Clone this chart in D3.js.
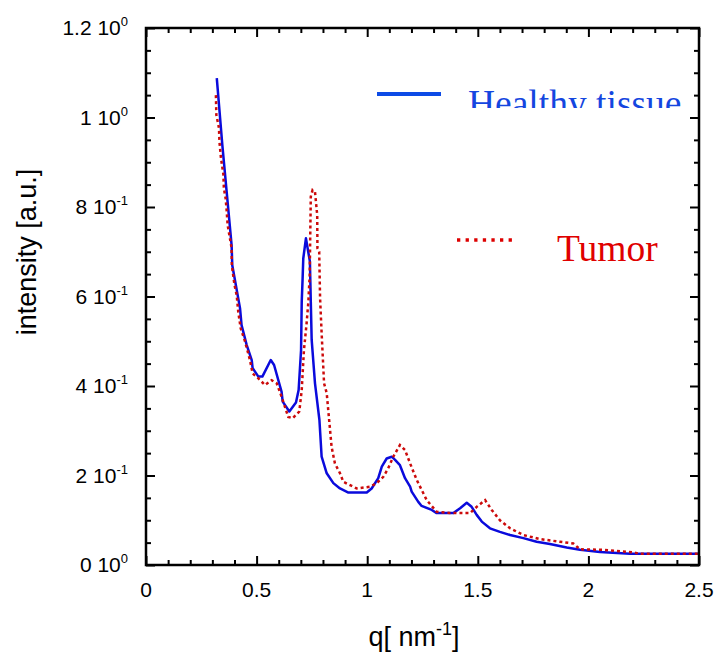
<!DOCTYPE html>
<html>
<head>
<meta charset="utf-8">
<script src="https://cdn.jsdelivr.net/npm/d3@7"></script>
<style>
  html, body { margin: 0; padding: 0; background: #fff; }
  svg { display: block; }
</style>
</head>
<body>
<svg id="chart" width="715" height="652"></svg>
<script>
// ---- data ----
const healthyQ = [0.320,0.345,0.387,0.390,0.425,0.432,0.455,0.478,0.482,0.508,0.526,0.564,0.579,0.613,0.618,0.648,0.678,0.690,0.701,0.704,0.708,0.711,0.723,0.741,0.745,0.749,0.764,0.784,0.794,0.817,0.847,0.877,0.915,0.998,1.020,1.050,1.066,1.088,1.111,1.126,1.148,1.171,1.194,1.201,1.231,1.246,1.292,1.314,1.390,1.420,1.450,1.472,1.495,1.518,1.555,1.600,1.646,1.706,1.766,1.826,1.902,1.962,2.052,2.188,2.500];
const healthyI = [1.088,0.939,0.715,0.670,0.574,0.536,0.492,0.458,0.440,0.421,0.421,0.458,0.447,0.387,0.365,0.343,0.363,0.391,0.480,0.588,0.640,0.685,0.730,0.678,0.588,0.503,0.406,0.324,0.242,0.205,0.183,0.171,0.162,0.162,0.171,0.194,0.220,0.238,0.242,0.235,0.223,0.194,0.175,0.164,0.141,0.132,0.123,0.116,0.116,0.127,0.139,0.130,0.112,0.097,0.082,0.074,0.067,0.060,0.052,0.047,0.039,0.034,0.029,0.025,0.025];

const tumorQ = [0.316,0.318,0.330,0.332,0.339,0.350,0.352,0.360,0.365,0.369,0.377,0.387,0.388,0.400,0.410,0.417,0.428,0.448,0.470,0.482,0.508,0.538,0.568,0.591,0.613,0.643,0.663,0.693,0.704,0.714,0.726,0.734,0.740,0.745,0.753,0.764,0.774,0.775,0.783,0.787,0.794,0.805,0.817,0.832,0.839,0.854,0.877,0.892,0.953,1.013,1.043,1.073,1.095,1.118,1.148,1.171,1.194,1.224,1.269,1.314,1.374,1.465,1.495,1.533,1.563,1.600,1.646,1.706,1.780,1.871,1.932,1.962,2.067,2.203,2.233,2.500];
const tumorI = [1.050,1.006,0.976,0.946,0.909,0.872,0.842,0.819,0.790,0.760,0.737,0.708,0.670,0.626,0.603,0.566,0.529,0.499,0.458,0.428,0.417,0.402,0.413,0.406,0.376,0.331,0.328,0.343,0.391,0.480,0.540,0.588,0.648,0.823,0.838,0.834,0.782,0.708,0.700,0.596,0.518,0.406,0.384,0.302,0.264,0.227,0.205,0.186,0.171,0.175,0.183,0.197,0.216,0.242,0.268,0.257,0.227,0.190,0.145,0.119,0.116,0.116,0.130,0.145,0.123,0.100,0.082,0.067,0.058,0.052,0.048,0.035,0.034,0.028,0.025,0.025];

const seriesNames = ["Healthy tissue", "Tumor"];
const xTickValues = [0, 0.5, 1, 1.5, 2, 2.5];
const xTickLabels = ["0", "0.5", "1", "1.5", "2", "2.5"];
const yTickValues = [0, 0.2, 0.4, 0.6, 0.8, 1.0, 1.2];
const yTickMantissa = ["0", "2", "4", "6", "8", "1", "1.2"];
const yTickExponent = ["0", "-1", "-1", "-1", "-1", "0", "0"];

// ---- layout ----
const svg = d3.select("#chart");
const L = 146, R = 699, T = 28, B = 565;
const x = d3.scaleLinear().domain([0, 2.5]).range([L, R]);
const y = d3.scaleLinear().domain([0, 1.2]).range([B, T]);
const axisFont = "'Liberation Sans', Arial, sans-serif";
const serifFont = "'Liberation Serif', 'Times New Roman', serif";

const blueCurve = "#0a0adc";
const redCurve = "#cc0a0a";

// ---- curves ----
const line = d3.line().x(d => x(d[0])).y(d => y(d[1]));
const healthy = healthyQ.map((q, i) => [q, healthyI[i]]);
const tumor = tumorQ.map((q, i) => [q, tumorI[i]]);

svg.append("path").datum(healthy)
  .attr("d", line).attr("fill", "none")
  .attr("stroke", blueCurve).attr("stroke-width", 2.5)
  .attr("stroke-linejoin", "round");

svg.append("path").datum(tumor)
  .attr("d", line).attr("fill", "none")
  .attr("stroke", redCurve).attr("stroke-width", 2.5)
  .attr("stroke-dasharray", "3,3");

// ---- axes (ticks inward) ----
const xMinor = d3.range(0, 2.5001, 0.1).filter(v => Math.abs(v*2 - Math.round(v*2)) > 1e-6);
const yMinor = d3.range(0, 1.2001, 0.05).filter(v => Math.abs(v*5 - Math.round(v*5)) > 1e-6);

function styleAxis(g) {
  g.selectAll("path").remove();
  g.selectAll("text").remove();
  g.selectAll("line").attr("stroke", "#000").attr("stroke-width", 2);
}

// bottom
svg.append("g").attr("transform", `translate(0,${B})`)
  .call(d3.axisBottom(x).tickValues(xTickValues).tickSize(-9)).call(styleAxis);
svg.append("g").attr("transform", `translate(0,${B})`)
  .call(d3.axisBottom(x).tickValues(xMinor).tickSize(-5)).call(styleAxis);
// top
svg.append("g").attr("transform", `translate(0,${T})`)
  .call(d3.axisTop(x).tickValues(xTickValues).tickSize(-9)).call(styleAxis);
svg.append("g").attr("transform", `translate(0,${T})`)
  .call(d3.axisTop(x).tickValues(xMinor).tickSize(-5)).call(styleAxis);
// left
svg.append("g").attr("transform", `translate(${L},0)`)
  .call(d3.axisLeft(y).tickValues(yTickValues).tickSize(-9)).call(styleAxis);
svg.append("g").attr("transform", `translate(${L},0)`)
  .call(d3.axisLeft(y).tickValues(yMinor).tickSize(-5)).call(styleAxis);
// right
svg.append("g").attr("transform", `translate(${R},0)`)
  .call(d3.axisRight(y).tickValues(yTickValues).tickSize(-9)).call(styleAxis);
svg.append("g").attr("transform", `translate(${R},0)`)
  .call(d3.axisRight(y).tickValues(yMinor).tickSize(-5)).call(styleAxis);

// frame
svg.append("rect").attr("x", L).attr("y", T).attr("width", R - L).attr("height", B - T)
  .attr("fill", "none").attr("stroke", "#000").attr("stroke-width", 2.5);

// x tick labels
svg.append("g").selectAll("text").data(xTickValues).join("text")
  .attr("x", d => x(d)).attr("y", B + 32)
  .attr("text-anchor", "middle")
  .attr("font-family", axisFont).attr("font-size", 21).attr("fill", "#000")
  .text((d, i) => xTickLabels[i]);

// y tick labels with superscript exponent
const yl = svg.append("g").selectAll("text").data(yTickValues).join("text")
  .attr("x", 128).attr("y", d => y(d) + 7)
  .attr("text-anchor", "end")
  .attr("font-family", axisFont).attr("font-size", 21).attr("fill", "#000");
yl.append("tspan").text((d, i) => yTickMantissa[i] + " 10");
yl.append("tspan").attr("dy", -9).attr("font-size", 13).text((d, i) => yTickExponent[i]);

// axis titles
const xt = svg.append("text").attr("x", 414).attr("y", 646)
  .attr("text-anchor", "middle")
  .attr("font-family", axisFont).attr("font-size", 27).attr("fill", "#000");
xt.append("tspan").text("q[ nm");
xt.append("tspan").attr("dy", -11).attr("font-size", 18).text("-1");
xt.append("tspan").attr("dy", 11).text("]");

svg.append("text")
  .attr("transform", "translate(36,252) rotate(-90)")
  .attr("text-anchor", "middle")
  .attr("font-family", axisFont).attr("font-size", 27).attr("fill", "#000")
  .text("intensity [a.u.]");

// ---- legend ----
svg.append("clipPath").attr("id", "legclip")
  .append("rect").attr("x", 0).attr("y", 0).attr("width", 715).attr("height", 108);

svg.append("line").attr("x1", 377).attr("x2", 441).attr("y1", 94).attr("y2", 94)
  .attr("stroke", "#0d4be6").attr("stroke-width", 4);
svg.append("text").attr("x", 468).attr("y", 116)
  .attr("clip-path", "url(#legclip)")
  .attr("font-family", serifFont).attr("font-size", 37.5).attr("fill", "#1446e0")
  .text(seriesNames[0]);

svg.append("line").attr("x1", 457).attr("x2", 517).attr("y1", 240).attr("y2", 240)
  .attr("stroke", "#dd0000").attr("stroke-width", 3.3)
  .attr("stroke-dasharray", "3.3,5.3");
svg.append("text").attr("x", 557).attr("y", 261)
  .attr("font-family", serifFont).attr("font-size", 37.5).attr("fill", "#e00000")
  .text(seriesNames[1]);
</script>
</body>
</html>
